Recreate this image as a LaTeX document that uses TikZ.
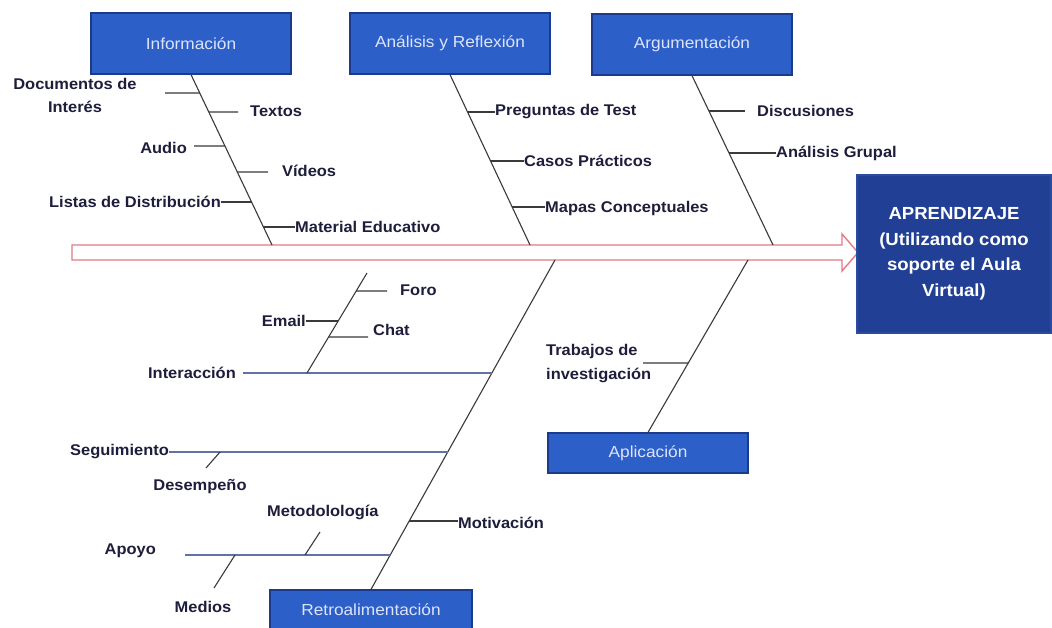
\documentclass[tikz,border=0pt]{standalone}
\usepackage{fontspec}
\setmainfont{Liberation Sans}
\newfontfamily\lblfont{Liberation Sans}[FakeStretch=1.06]
\newfontfamily\bxfont{Liberation Sans}[FakeStretch=1.08]
\usetikzlibrary{calc}
\definecolor{boxblue}{HTML}{2D5FC8}
\definecolor{boxedge}{HTML}{1C3A8A}
\definecolor{navy}{HTML}{213F94}
\definecolor{navyedge}{HTML}{2B4B9E}
\definecolor{boxtext}{HTML}{DCE4FA}
\definecolor{lblcol}{HTML}{1E1E3C}
\definecolor{spinecol}{HTML}{3A3A3A}
\definecolor{bonecol}{HTML}{6272A6}
\definecolor{arrowcol}{HTML}{E47A85}
\newcommand\onbone[4]{\coordinate (#1) at (intersection of #2--#3 and 0,#4--1000,#4);}
\begin{document}
\begin{tikzpicture}[x=1pt,y=-1pt,
  cat/.style={draw=boxedge, line width=1.2pt, fill=boxblue, text=boxtext,
    font=\bxfont\fontsize{16}{18}\selectfont, minimum width=200pt, minimum height=61pt, inner sep=0pt},
  lbl/.style={text=lblcol, font=\lblfont\bfseries\fontsize{15.5}{23}\selectfont, inner sep=0pt},
  spine/.style={draw=spinecol, line width=1.1pt},
  twig/.style={draw=spinecol, line width=1.1pt},
  bone/.style={draw=bonecol, line width=1.7pt},
  fatarrow/.style={draw=arrowcol, line width=1.4pt, fill=white}]
\useasboundingbox[fill=white] (0,0) rectangle (1052,628);

% main arrow
\draw[fatarrow] (72,245) -- (842,245) -- (842,234) -- (858,252.5) -- (842,271) -- (842,260) -- (72,260) -- cycle;

% category boxes
\node[cat] (info) at (191,43.5) {Información};
\node[cat] (ana) at (450,43.5) {Análisis y Reflexión};
\node[cat] (arg) at (692,44.5) {Argumentación};
\node[cat, minimum height=40pt] (aplic) at (648,453) {Aplicación};
\node[cat, minimum height=40pt, minimum width=202pt] (retro) at (371,610) {Retroalimentación};
\node[draw=navyedge, line width=1.2pt, fill=navy, text=white, minimum width=194pt, minimum height=158pt,
  inner sep=0pt, align=center, font=\lblfont\bfseries\fontsize{17.5}{25.5}\selectfont] (goal) at (954,254)
  {APRENDIZAJE\\(Utilizando como\\soporte el Aula\\Virtual)};

% spine end points
\coordinate (infoS) at (info.south);
\coordinate (infoE) at (272,245);
\coordinate (anaS) at (ana.south);
\coordinate (anaE) at (530,245);
\coordinate (argS) at (arg.south);
\coordinate (argE) at (773,245);
\coordinate (retroT) at (555,260);
\coordinate (retroN) at (retro.north);
\coordinate (aplT) at (748,260);
\coordinate (aplN) at (aplic.north);

\draw[spine] (infoS) -- (infoE);
\draw[spine] (anaS) -- (anaE);
\draw[spine] (argS) -- (argE);
\draw[spine] (retroN) -- (retroT);
\draw[spine] (aplN) -- (aplT);

% Informacion
\onbone{i1}{infoS}{infoE}{93}
\onbone{i2}{infoS}{infoE}{112}
\onbone{i3}{infoS}{infoE}{146}
\onbone{i4}{infoS}{infoE}{172}
\onbone{i5}{infoS}{infoE}{202}
\onbone{i6}{infoS}{infoE}{227}
\node[lbl, align=center] (docs) at (75,95) {Documentos de\\Interés};
\node[lbl, anchor=west] (textos) at (250,111) {Textos};
\node[lbl, anchor=east] (audio) at (187,148) {Audio};
\node[lbl, anchor=west] (videos) at (282,171) {Vídeos};
\node[lbl, anchor=east] (listas) at (221,202) {Listas de Distribución};
\node[lbl, anchor=west] (mat) at (295,227) {Material Educativo};
\coordinate (docsT) at (165,93);
\coordinate (textosT) at (238,112);
\coordinate (audioT) at (194,146);
\coordinate (videosT) at (268,172);
\draw[twig] (docsT) -- (i1);
\draw[twig] (i2) -- (textosT);
\draw[twig] (audioT) -- (i3);
\draw[twig] (i4) -- (videosT);
\draw[twig] (listas.east |- i5) -- (i5);
\draw[twig] (i6) -- (mat.west |- i6);

% Analisis
\onbone{a1}{anaS}{anaE}{112}
\onbone{a2}{anaS}{anaE}{161}
\onbone{a3}{anaS}{anaE}{207}
\node[lbl, anchor=west] (preg) at (495,112) {Preguntas de Test};
\node[lbl, anchor=west] (casos) at (524,161) {Casos Prácticos};
\node[lbl, anchor=west] (mapas) at (545,208) {Mapas Conceptuales};
\draw[twig] (a1) -- (preg.west |- a1);
\draw[twig] (a2) -- (casos.west |- a2);
\draw[twig] (a3) -- (mapas.west |- a3);

% Argumentacion
\onbone{r1}{argS}{argE}{111}
\onbone{r2}{argS}{argE}{153}
\node[lbl, anchor=west] (disc) at (757,111) {Discusiones};
\node[lbl, anchor=west] (grp) at (776,153) {Análisis Grupal};
\coordinate (discT) at (745,111);
\draw[twig] (r1) -- (discT);
\draw[twig] (r2) -- (grp.west |- r2);

% Aplicacion
\onbone{p1}{aplN}{aplT}{363}
\node[lbl, anchor=west, align=left, font=\lblfont\bfseries\fontsize{15.5}{24}\selectfont] (trab) at (546,364) {Trabajos de\\investigación};
\coordinate (trabT) at (643,363);
\draw[twig] (trabT) -- (p1);

% Retroalimentacion bones
\onbone{b1}{retroN}{retroT}{373}
\onbone{b2}{retroN}{retroT}{452}
\onbone{b3}{retroN}{retroT}{521}
\onbone{b4}{retroN}{retroT}{555}
\node[lbl, anchor=east] (inter) at (236,373) {Interacción};
\node[lbl, anchor=east] (seg) at (169,452) {Seguimiento};
\node[lbl, anchor=west] (mot) at (458,523) {Motivación};
\node[lbl, anchor=east] (apoyo) at (156,551) {Apoyo};
\coordinate (interL) at (243,373);
\coordinate (apoyoL) at (185,555);
\draw[bone] (interL) -- (b1);
\draw[bone] (seg.east |- b2) -- (b2);
\draw[bone] (apoyoL) -- (b4);
\draw[twig] (b3) -- (mot.west |- b3);

% Interaccion sub-branch
\coordinate (ib) at (307,373);
\coordinate (itp) at (367,273);
\draw[twig] (ib) -- (itp);
\onbone{s1}{ib}{itp}{291}
\onbone{s2}{ib}{itp}{321}
\onbone{s3}{ib}{itp}{337}
\node[lbl, anchor=west] (foro) at (400,290) {Foro};
\node[lbl, anchor=east] (email) at (306,321) {Email};
\node[lbl, anchor=west] (chat) at (373,330) {Chat};
\coordinate (foroT) at (387,291);
\coordinate (chatT) at (368,337);
\draw[twig] (s1) -- (foroT);
\draw[twig] (email.east |- s2) -- (s2);
\draw[twig] (s3) -- (chatT);

% Seguimiento / Apoyo sub-branches
\node[lbl] (desem) at (200,487) {Desempeño};
\coordinate (desA) at (220,452);
\coordinate (desB) at (206,468);
\draw[twig] (desA) -- (desB);
\node[lbl, anchor=west] (metod) at (267,512) {Metodolología};
\coordinate (metA) at (305,555);
\coordinate (metB) at (320,532);
\draw[twig] (metA) -- (metB);
\node[lbl] (medios) at (203,607) {Medios};
\coordinate (medA) at (235,555);
\coordinate (medB) at (214,588);
\draw[twig] (medA) -- (medB);
\end{tikzpicture}
\end{document}
